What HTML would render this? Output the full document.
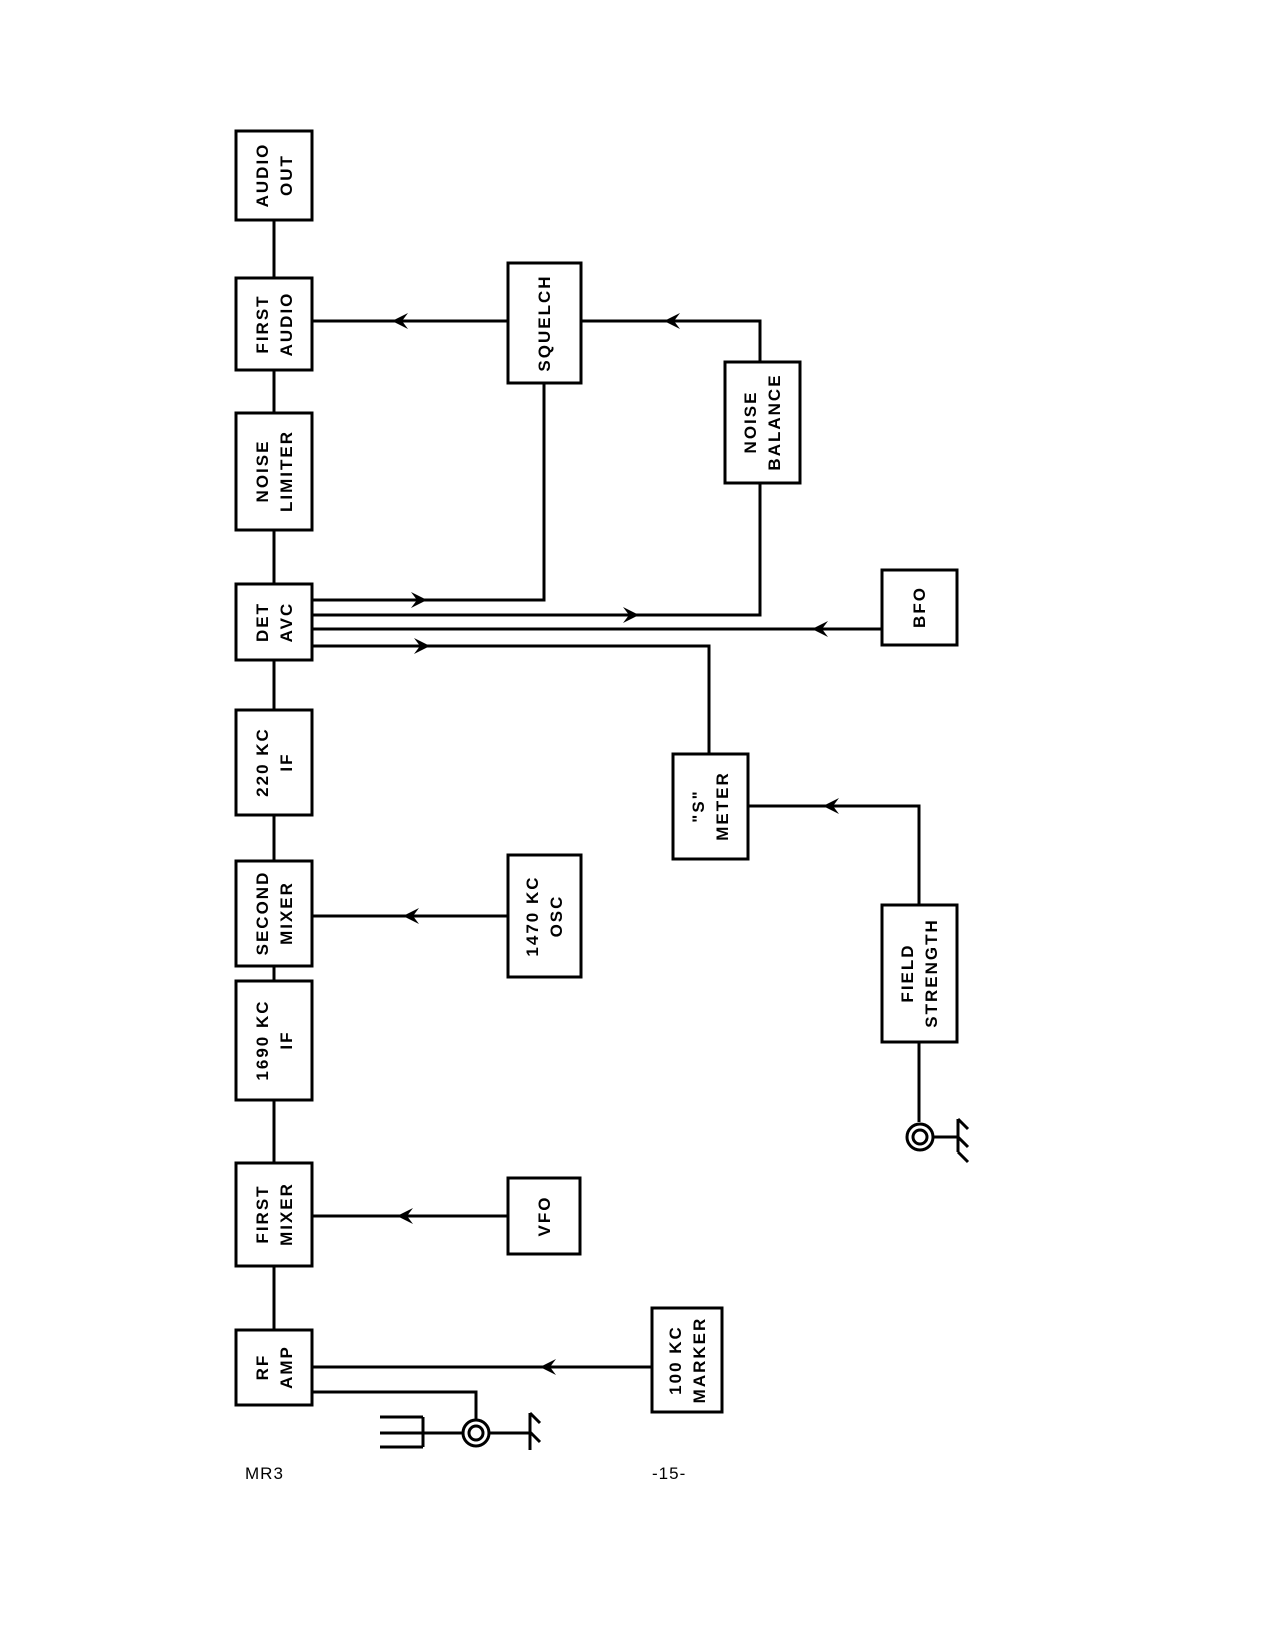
<!DOCTYPE html>
<html><head><meta charset="utf-8"><style>
html,body{margin:0;padding:0;background:#fff}
svg{display:block}
text{font-family:"Liberation Sans",sans-serif;font-weight:bold;font-size:17px;letter-spacing:2px;fill:#000}
</style></head><body>
<svg width="1275" height="1650" viewBox="0 0 1275 1650" xmlns="http://www.w3.org/2000/svg">
<g stroke="#000" stroke-width="3" fill="none">
<rect x="236" y="131" width="76" height="89"/>
<rect x="236" y="278" width="76" height="92"/>
<rect x="236" y="413" width="76" height="117"/>
<rect x="236" y="584" width="76" height="76"/>
<rect x="236" y="710" width="76" height="105"/>
<rect x="236" y="861" width="76" height="105"/>
<rect x="236" y="981" width="76" height="119"/>
<rect x="236" y="1163" width="76" height="103"/>
<rect x="236" y="1330" width="76" height="75"/>
<path d="M274 220V278M274 370V413M274 530V584M274 660V710M274 815V861M274 966V981M274 1100V1163M274 1266V1330"/>
<rect x="508" y="263" width="73" height="120"/>
<rect x="725" y="362" width="75" height="121"/>
<rect x="882" y="570" width="75" height="75"/>
<rect x="673" y="754" width="75" height="105"/>
<rect x="882" y="905" width="75" height="137"/>
<rect x="508" y="855" width="73" height="122"/>
<rect x="508" y="1178" width="72" height="76"/>
<rect x="652" y="1308" width="70" height="104"/>
<path d="M312 321H508M581 321H760V362"/>
<path d="M312 600H544V383"/>
<path d="M312 615H760V483"/>
<path d="M312 629H882"/>
<path d="M312 646H709V754"/>
<path d="M748 806H919V905"/>
<path d="M919 1042V1122"/>
<path d="M312 916H508M312 1216H508M312 1367H652"/>
<path d="M312 1392H476V1419"/>
<circle cx="920" cy="1137" r="13"/>
<circle cx="920" cy="1137" r="7"/>
<path d="M933 1137H958M958 1119V1152M958 1119L968 1129M958 1137L968 1147M958 1152L968 1162"/>
<circle cx="476" cy="1433" r="13"/>
<circle cx="476" cy="1433" r="7"/>
<path d="M463 1433H380M423 1417V1447M380 1417H423M380 1447H423"/>
<path d="M489 1433H530M530 1413V1450M530 1413L540 1423M530 1432L540 1442"/>
</g>
<g fill="#000">
<path d="M392 321l16 -8l-6 8l6 8z"/>
<path d="M664 321l16 -8l-6 8l6 8z"/>
<path d="M427 600l-16 -8l6 8l-6 8z"/>
<path d="M639 615l-16 -8l6 8l-6 8z"/>
<path d="M812 629l16 -8l-6 8l6 8z"/>
<path d="M430 646l-16 -8l6 8l-6 8z"/>
<path d="M823 806l16 -8l-6 8l6 8z"/>
<path d="M403 916l16 -8l-6 8l6 8z"/>
<path d="M397 1216l16 -8l-6 8l6 8z"/>
<path d="M540 1367l16 -8l-6 8l6 8z"/>
</g>
<g text-anchor="middle">
<g transform="rotate(-90 274 175)"><text x="274" y="169">AUDIO</text><text x="274" y="193">OUT</text></g>
<g transform="rotate(-90 274 324)"><text x="274" y="318">FIRST</text><text x="274" y="342">AUDIO</text></g>
<g transform="rotate(-90 274 471)"><text x="274" y="465">NOISE</text><text x="274" y="489">LIMITER</text></g>
<g transform="rotate(-90 274 622)"><text x="274" y="616">DET</text><text x="274" y="640">AVC</text></g>
<g transform="rotate(-90 274 762)"><text x="274" y="756">220 KC</text><text x="274" y="780">IF</text></g>
<g transform="rotate(-90 274 913)"><text x="274" y="907">SECOND</text><text x="274" y="931">MIXER</text></g>
<g transform="rotate(-90 274 1040)"><text x="274" y="1034">1690 KC</text><text x="274" y="1058">IF</text></g>
<g transform="rotate(-90 274 1214)"><text x="274" y="1208">FIRST</text><text x="274" y="1232">MIXER</text></g>
<g transform="rotate(-90 274 1367)"><text x="274" y="1361">RF</text><text x="274" y="1385">AMP</text></g>
<g transform="rotate(-90 544 323)"><text x="544" y="329">SQUELCH</text></g>
<g transform="rotate(-90 762 422)"><text x="762" y="416">NOISE</text><text x="762" y="440">BALANCE</text></g>
<g transform="rotate(-90 919 607)"><text x="919" y="613">BFO</text></g>
<g transform="rotate(-90 710 806)"><text x="710" y="800">"S"</text><text x="710" y="824">METER</text></g>
<g transform="rotate(-90 919 973)"><text x="919" y="967">FIELD</text><text x="919" y="991">STRENGTH</text></g>
<g transform="rotate(-90 544 916)"><text x="544" y="910">1470 KC</text><text x="544" y="934">OSC</text></g>
<g transform="rotate(-90 544 1216)"><text x="544" y="1222">VFO</text></g>
<g transform="rotate(-90 687 1360)"><text x="687" y="1354">100 KC</text><text x="687" y="1378">MARKER</text></g>
</g>
<text x="245" y="1479" style="font-size:17px;letter-spacing:1px;font-weight:normal">MR3</text>
<text x="652" y="1479" style="font-size:17px;letter-spacing:1px;font-weight:normal">-15-</text>
</svg>
</body></html>
